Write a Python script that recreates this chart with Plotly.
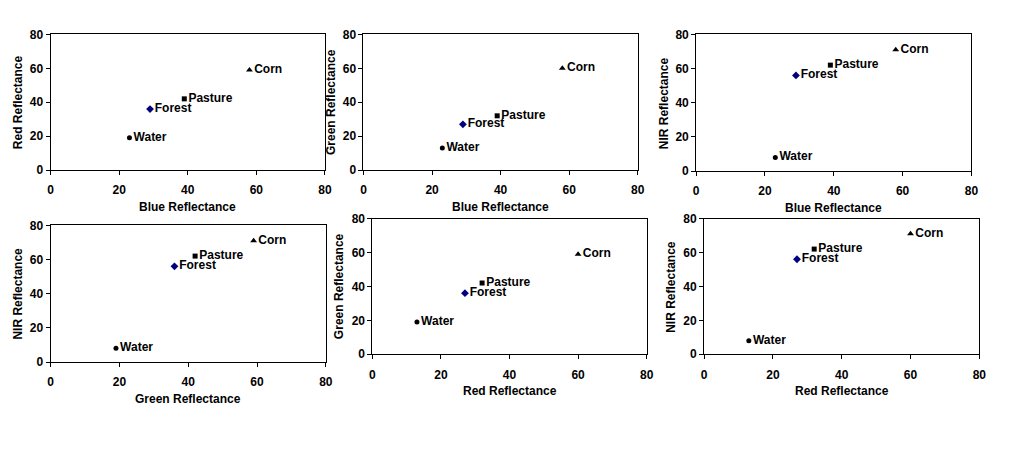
import plotly.graph_objects as go

# ---- data ----
CLASSES = ["Water", "Forest", "Pasture", "Corn"]
BLUE = [23, 29, 39, 58]
GREEN = [13, 27, 32, 60]
RED = [19, 36, 42, 59]
NIR = [8, 56, 62, 71]
TICKS = [0, 20, 40, 60, 80]

# panels: (x values, y values, x title, y title) as shown in the picture
PANELS = [
    (BLUE, RED, "Blue Reflectance", "Red Reflectance"),
    (BLUE, GREEN, "Blue Reflectance", "Green Reflectance"),
    (BLUE, NIR, "Blue Reflectance", "NIR Reflectance"),
    (RED, NIR, "Green Reflectance", "NIR Reflectance"),
    (GREEN, RED, "Red Reflectance", "Green Reflectance"),
    (GREEN, NIR, "Red Reflectance", "NIR Reflectance"),
]

# ---- styling ----
W, H = 1013, 456
OFF = 8  # page body margin in the browser
FONT = "Liberation Sans, Arial, sans-serif"
SYMBOLS = {"Water": "circle", "Forest": "diamond", "Pasture": "square", "Corn": "triangle-up"}
COLORS = {"Water": "#000000", "Forest": "#000080", "Pasture": "#000000", "Corn": "#000000"}
SIZES = {"Water": 5, "Forest": 6, "Pasture": 5, "Corn": 6}

# plot-area boxes in screen pixels (left, right, top, bottom)
BOXES = [
    (48, 325, 28, 168),
    (364, 641, 28, 168),
    (700, 978, 28, 169),
    (48, 326, 225, 366),
    (373, 650, 218, 358),
    (708, 986, 218, 358),
]


def px(x):
    return (x - OFF) / W


def py(y):
    return 1 - (y - OFF) / H


fig = go.Figure()
annotations = []
layout = {}
for i, ((xv, yv, xt, yt), (l, r, t, b)) in enumerate(zip(PANELS, BOXES)):
    n = "" if i == 0 else str(i + 1)
    xa, ya = "x" + n, "y" + n
    for k, cls in enumerate(CLASSES):
        fig.add_trace(go.Scatter(
            x=[xv[k]], y=[yv[k]], xaxis=xa, yaxis=ya,
            mode="markers+text", text=[cls], textposition="middle right",
            textfont=dict(family=FONT, size=12, color="#000000", weight="bold"),
            marker=dict(symbol=SYMBOLS[cls], size=SIZES[cls], color=COLORS[cls]),
            showlegend=False, cliponaxis=False,
        ))
    common = dict(
        range=[0, 80], tickvals=TICKS, showgrid=False, zeroline=False,
        showline=True, linecolor="#000000", linewidth=1, mirror=True,
        ticks="outside", ticklen=4, tickcolor="#000000",
        tickfont=dict(family=FONT, size=12, color="#000000", weight="bold"),
        fixedrange=True,
    )
    layout["xaxis" + n] = dict(common, domain=[px(l), px(r)], anchor=ya, ticklabelstandoff=5)
    layout["yaxis" + n] = dict(common, domain=[py(b), py(t)], anchor=xa)
    annotations.append(dict(
        text=xt, xref="paper", yref="paper", x=px((l + r) / 2), y=py(b + 38),
        xanchor="center", yanchor="middle", showarrow=False,
        font=dict(family=FONT, size=12, color="#000000", weight="bold"),
    ))
    annotations.append(dict(
        text=yt, xref="paper", yref="paper", x=px(l - 33), y=py((t + b) / 2),
        xanchor="center", yanchor="middle", showarrow=False, textangle=-90,
        font=dict(family=FONT, size=12, color="#000000", weight="bold"),
    ))

fig.update_layout(
    width=W, height=H, margin=dict(l=0, r=0, t=0, b=0),
    paper_bgcolor="#ffffff", plot_bgcolor="#ffffff",
    annotations=annotations, **layout,
)
fig.write_html("out.html")
